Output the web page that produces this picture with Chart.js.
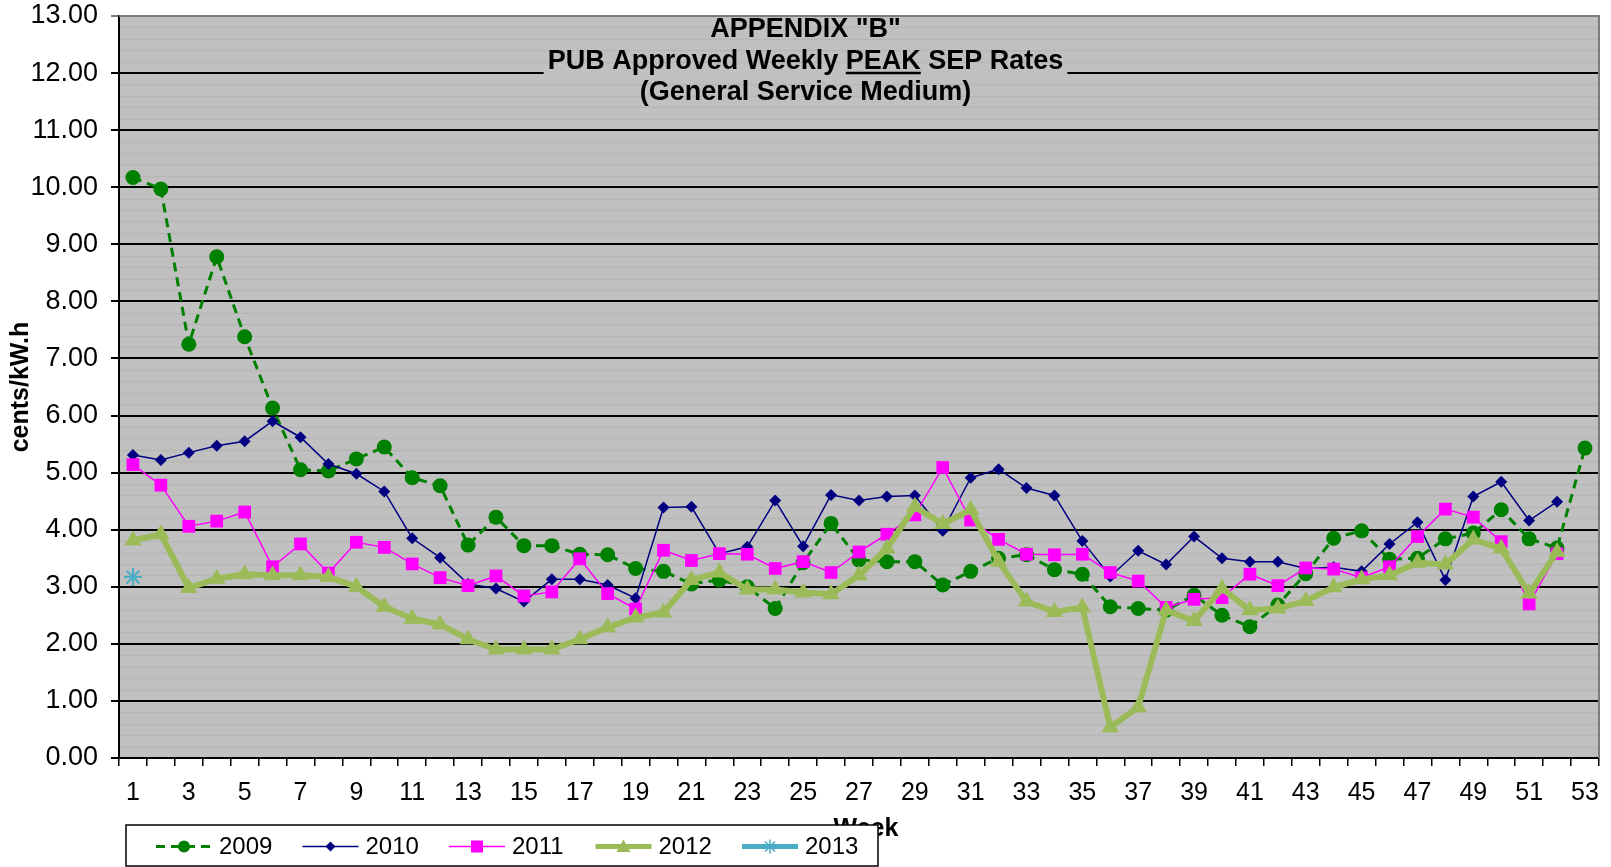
<!DOCTYPE html>
<html>
<head>
<meta charset="utf-8">
<script src="https://cdn.jsdelivr.net/npm/chart.js@4/dist/chart.umd.min.js"></script>
<style>
  body { margin: 0; background: #fff; }
  canvas { display: block; }
</style>
</head>
<body>
<canvas id="grafico" width="1611" height="867"></canvas>
<script>
// week numbers on the x axis
const semanas = Array.from({ length: 53 }, (_, i) => i + 1);

const y2009 = [10.17, 9.97, 7.25, 8.78, 7.38, 6.13, 5.05, 5.03, 5.24, 5.45, 4.91, 4.77, 3.73,
  4.22, 3.72, 3.72, 3.57, 3.56, 3.32, 3.27, 3.05, 3.12, 3.00, 2.62, 3.42, 4.11,
  3.47, 3.44, 3.44, 3.03, 3.27, 3.50, 3.56, 3.30, 3.22, 2.65, 2.62, 2.59,
  2.85, 2.50, 2.30, 2.68, 3.23, 3.85, 3.98, 3.48, 3.50, 3.84, 3.94, 4.35, 3.84, 3.68, 5.43];
const y2010 = [5.31, 5.22, 5.35, 5.47, 5.55, 5.90, 5.62, 5.15, 4.98, 4.67, 3.85, 3.51, 3.05,
  2.97, 2.74, 3.13, 3.13, 3.03, 2.80, 4.39, 4.40, 3.58, 3.70, 4.51, 3.71, 4.61,
  4.51, 4.58, 4.60, 3.98, 4.91, 5.06, 4.73, 4.60, 3.80, 3.18, 3.63, 3.39,
  3.88, 3.50, 3.44, 3.44, 3.32, 3.34, 3.27, 3.75, 4.13, 3.12, 4.58, 4.84, 4.16, 4.49, null];
const y2011 = [5.14, 4.78, 4.06, 4.15, 4.31, 3.35, 3.75, 3.24, 3.78, 3.69, 3.40, 3.16, 3.02,
  3.19, 2.84, 2.91, 3.49, 2.88, 2.61, 3.64, 3.46, 3.58, 3.57, 3.32, 3.44, 3.25,
  3.61, 3.92, 4.26, 5.09, 4.17, 3.83, 3.57, 3.56, 3.57, 3.25, 3.10, 2.64,
  2.78, 2.81, 3.22, 3.02, 3.33, 3.31, 3.16, 3.35, 3.88, 4.36, 4.22, 3.79, 2.70, 3.58, null];
const y2012 = [3.81, 3.92, 2.98, 3.14, 3.22, 3.20, 3.20, 3.17, 3.00, 2.65, 2.44, 2.34, 2.08,
  1.90, 1.90, 1.90, 2.08, 2.29, 2.46, 2.55, 3.12, 3.25, 2.95, 2.95, 2.90, 2.87,
  3.20, 3.67, 4.40, 4.10, 4.35, 3.44, 2.74, 2.56, 2.64, 0.54, 0.89, 2.59,
  2.40, 2.97, 2.59, 2.62, 2.75, 2.99, 3.13, 3.20, 3.42, 3.39, 3.83, 3.67, 2.88, 3.61, null];
const y2013 = [3.17];

const anos = ['2009', '2010', '2011', '2012', '2013'];
const titulo = ['APPENDIX "B"', 'PUB Approved Weekly PEAK SEP Rates', '(General Service Medium)'];

const FONTE = '"Liberation Sans", Arial, sans-serif';

// marker drawing for the custom legend
function desenharMarcador(ctx, tipo, x, y, r, cor) {
  ctx.save();
  ctx.fillStyle = cor;
  ctx.strokeStyle = cor;
  ctx.setLineDash([]);
  ctx.beginPath();
  if (tipo === 'circle') {
    ctx.arc(x, y, r, 0, Math.PI * 2);
    ctx.fill();
  } else if (tipo === 'rectRot') {
    ctx.moveTo(x, y - r); ctx.lineTo(x + r, y); ctx.lineTo(x, y + r); ctx.lineTo(x - r, y);
    ctx.closePath(); ctx.fill();
  } else if (tipo === 'rect') {
    ctx.rect(x - r, y - r, 2 * r, 2 * r);
    ctx.fill();
  } else if (tipo === 'triangle') {
    ctx.moveTo(x, y - r); ctx.lineTo(x + r, y + r * 0.8); ctx.lineTo(x - r, y + r * 0.8);
    ctx.closePath(); ctx.fill();
  } else if (tipo === 'star') {
    ctx.lineWidth = 1.5;
    for (let k = 0; k < 4; k++) {
      const a = k * Math.PI / 4;
      ctx.moveTo(x - r * Math.cos(a), y - r * Math.sin(a));
      ctx.lineTo(x + r * Math.cos(a), y + r * Math.sin(a));
    }
    ctx.stroke();
  }
  ctx.restore();
}

const moldura = {
  id: 'moldura',
  beforeDraw(chart) {
    const { ctx, chartArea: a, scales: { y } } = chart;
    ctx.save();
    ctx.fillStyle = '#C0C0C0';
    ctx.fillRect(a.left, a.top, a.right - a.left, a.bottom - a.top);
    // faint stripes every 0.2
    ctx.strokeStyle = '#B6B6B6';
    ctx.lineWidth = 1.5;
    for (let v = 0.2; v < 13; v += 0.2) {
      if (Math.abs(v - Math.round(v)) < 0.01) continue;
      const py = Math.round(y.getPixelForValue(v)) + 0.5;
      ctx.beginPath();
      ctx.moveTo(a.left, py);
      ctx.lineTo(a.right, py);
      ctx.stroke();
    }
    ctx.restore();
  },
  afterDraw(chart) {
    const { ctx, chartArea: a, scales: { y } } = chart;
    ctx.save();
    // top and right border
    ctx.strokeStyle = '#7A7A7A';
    ctx.lineWidth = 2;
    ctx.beginPath();
    ctx.moveTo(a.left, a.top);
    ctx.lineTo(a.right, a.top);
    ctx.lineTo(a.right, a.bottom);
    ctx.stroke();

    // title inside the plot; its box hides the 12.00 gridline
    const cx = chart.width / 2;
    ctx.font = 'bold 27px ' + FONTE;
    const linha = titulo[1];
    const larg = ctx.measureText(linha).width;
    const sub = y.getPixelForValue(12);
    ctx.fillStyle = '#C0C0C0';
    ctx.fillRect(cx - larg / 2 - 4, sub - 2, larg + 8, 4);

    ctx.fillStyle = '#000';
    ctx.textBaseline = 'middle';
    ctx.textAlign = 'center';
    ctx.fillText(titulo[0], cx, 30);
    ctx.fillText(linha, cx, 62);
    ctx.fillText(titulo[2], cx, 93);
    const antes = ctx.measureText('PUB Approved Weekly ').width;
    const pico = ctx.measureText('PEAK').width;
    const x0 = cx - larg / 2 + antes;
    ctx.lineWidth = 2.5;
    ctx.strokeStyle = '#000';
    ctx.beginPath();
    ctx.moveTo(x0, sub);
    ctx.lineTo(x0 + pico, sub);
    ctx.stroke();

    // x axis title, partly covered by the legend box
    ctx.font = 'bold 25px ' + FONTE;
    ctx.fillText('Week', 866, 829);

    // legend box
    const bx = 126, by = 825, bw = 752, bh = 41;
    ctx.fillStyle = '#fff';
    ctx.fillRect(bx, by, bw, bh);
    ctx.strokeStyle = '#000';
    ctx.lineWidth = 1.5;
    ctx.strokeRect(bx, by, bw, bh);

    const ly = by + bh / 2 + 1;
    chart.data.datasets.forEach((ds, i) => {
      const x1 = 156 + i * 146.5;
      const x2 = x1 + 56;
      ctx.save();
      ctx.strokeStyle = ds.borderColor;
      ctx.lineWidth = ds.legendLine;
      ctx.setLineDash(ds.borderDash || []);
      ctx.beginPath();
      ctx.moveTo(x1, ly);
      ctx.lineTo(x2, ly);
      ctx.stroke();
      ctx.restore();
      desenharMarcador(ctx, ds.pointStyle, (x1 + x2) / 2, ly, ds.legendMarker, ds.borderColor);
      ctx.fillStyle = '#000';
      ctx.font = '24px ' + FONTE;
      ctx.textAlign = 'left';
      ctx.textBaseline = 'middle';
      ctx.fillText(ds.label, x2 + 7, ly + 1);
    });
    ctx.restore();
  }
};

new Chart(document.getElementById('grafico'), {
  type: 'line',
  data: {
    labels: semanas,
    datasets: [
      {
        label: anos[0], data: y2009, order: 5,
        borderColor: '#008000', backgroundColor: '#008000',
        borderWidth: 3, borderDash: [9, 6],
        pointStyle: 'circle', pointRadius: 7.5, pointBorderWidth: 0,
        legendLine: 3, legendMarker: 6
      },
      {
        label: anos[1], data: y2010, order: 4,
        borderColor: '#000080', backgroundColor: '#000080',
        borderWidth: 1.5,
        pointStyle: 'rectRot', pointRadius: 6, pointBorderWidth: 0,
        legendLine: 1.5, legendMarker: 5
      },
      {
        label: anos[2], data: y2011, order: 3,
        borderColor: '#FF00FF', backgroundColor: '#FF00FF',
        borderWidth: 1.5,
        pointStyle: 'rect', pointRadius: 9, pointBorderWidth: 0,
        legendLine: 1.5, legendMarker: 6
      },
      {
        label: anos[3], data: y2012, order: 2,
        borderColor: '#9BBB59', backgroundColor: '#9BBB59',
        borderWidth: 6,
        pointStyle: 'triangle', pointRadius: 10, pointBorderWidth: 0,
        legendLine: 5, legendMarker: 7
      },
      {
        label: anos[4], data: y2013, order: 1,
        borderColor: '#4BACC6', backgroundColor: '#4BACC6',
        borderWidth: 5,
        pointStyle: 'star', pointRadius: 9, pointBorderWidth: 2,
        legendLine: 5, legendMarker: 7
      }
    ]
  },
  options: {
    responsive: false,
    animation: false,
    layout: { padding: { top: 16, right: 5, left: 0, bottom: 0 } },
    elements: { line: { tension: 0 } },
    plugins: {
      legend: { display: false },
      tooltip: { enabled: false }
    },
    scales: {
      x: {
        offset: true,
        afterFit(s) { s.height = 109; },
        grid: {
          offset: true, drawOnChartArea: false,
          drawTicks: true, tickLength: 8, color: '#000', lineWidth: 1.5
        },
        border: { display: true, color: '#000', width: 2 },
        ticks: {
          autoSkip: false, maxRotation: 0, padding: 12,
          color: '#000', font: { family: FONTE, size: 25 },
          callback: (v, i) => (i % 2 === 0 ? semanas[i] : '')
        }
      },
      y: {
        min: 0, max: 13,
        afterFit(s) { s.width = 119; s.paddingTop = 0; s.paddingBottom = 0; },
        grid: {
          color: (c) => (c.tick && c.tick.value === 13 ? '#7A7A7A' : '#000'),
          lineWidth: 2, tickLength: 8
        },
        border: { display: true, color: '#000', width: 2 },
        ticks: {
          stepSize: 1, padding: 13, color: '#000',
          font: { family: FONTE, size: 27 },
          callback: (v) => Number(v).toFixed(2)
        },
        title: {
          display: true, text: 'cents/kW.h', color: '#000',
          font: { family: FONTE, size: 25, weight: 'bold' },
          padding: { top: 6, bottom: 0 }
        }
      }
    }
  },
  plugins: [moldura]
});
</script>
</body>
</html>
